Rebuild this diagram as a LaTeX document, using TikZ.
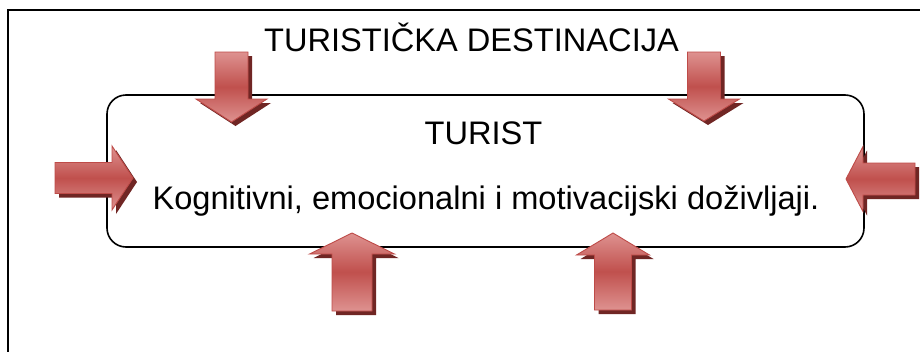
\documentclass[tikz,border=0pt]{standalone}
\usepackage{fontspec}
\setmainfont{Liberation Sans}
\definecolor{arrowlight}{RGB}{222,146,144}
\definecolor{arrowdark}{RGB}{192,80,77}
\definecolor{arrowedge}{RGB}{190,75,72}
\definecolor{arrowshade}{RGB}{112,38,36}
\newcommand\vArrow[6]{%
  \fill[arrowshadow, shift={(4,4)}] ({#1-#5},#2) -- ({#1+#5},#2) -- ({#1+#5},#3) -- ({#1+#6},#3) -- (#1,#4) -- ({#1-#6},#3) -- ({#1-#5},#3) -- cycle;
  \path[arrowbody] ({#1-#5},#2) -- ({#1+#5},#2) -- ({#1+#5},#3) -- ({#1+#6},#3) -- (#1,#4) -- ({#1-#6},#3) -- ({#1-#5},#3) -- cycle;}
\newcommand\hArrow[6]{%
  \fill[arrowshadow, shift={(4,4)}] (#2,{#1-#5}) -- (#3,{#1-#5}) -- (#3,{#1-#6}) -- (#4,#1) -- (#3,{#1+#6}) -- (#3,{#1+#5}) -- (#2,{#1+#5}) -- cycle;
  \path[arrowbody] (#2,{#1-#5}) -- (#3,{#1-#5}) -- (#3,{#1-#6}) -- (#4,#1) -- (#3,{#1+#6}) -- (#3,{#1+#5}) -- (#2,{#1+#5}) -- cycle;}
\begin{document}
\begin{tikzpicture}[x=1pt,y=-1pt,
  frame/.style={draw=black, line width=2.2pt},
  box/.style={draw=black, line width=1.6pt, rounded corners=19pt, inner sep=0pt},
  arrowbody/.style={draw=arrowedge, line width=0.9pt, top color=arrowlight, bottom color=arrowlight, middle color=arrowdark},
  arrowshadow/.style={fill=arrowshade},
  lbl/.style={font=\fontsize{32.6}{38}\selectfont, anchor=base, inner sep=0pt}
]
\useasboundingbox (0,0) rectangle (920,351);
\fill[white] (0,0) rectangle (920,351);
\begin{scope}
\clip (0,0) rectangle (920,351);
\draw[frame] (8,360) -- (8,10) -- (930,10);
\end{scope}
\node[box, minimum width=757pt, minimum height=152pt] (turist) at (485.5,171) {};
\node[lbl] (dest) at (471.5,51) {TURISTIČKA DESTINACIJA};
\node[lbl] (tname) at (483.5,144) {TURIST};
\node[lbl] (exp) at (486,209) {Kognitivni, emocionalni i motivacijski doživljaji.};
% down arrows
\vArrow{231.5}{52}{99}{122}{16.5}{35.5}
\vArrow{704}{52}{99}{121}{16.5}{35.5}
% up arrows
\vArrow{352}{311}{254}{233}{20}{42.5}
\vArrow{613}{310}{255}{233}{18.5}{36.5}
% side arrows
\hArrow{178}{55}{112}{133}{15.5}{32}
\hArrow{179}{915}{863}{846}{16}{32.5}
\end{tikzpicture}
\end{document}
